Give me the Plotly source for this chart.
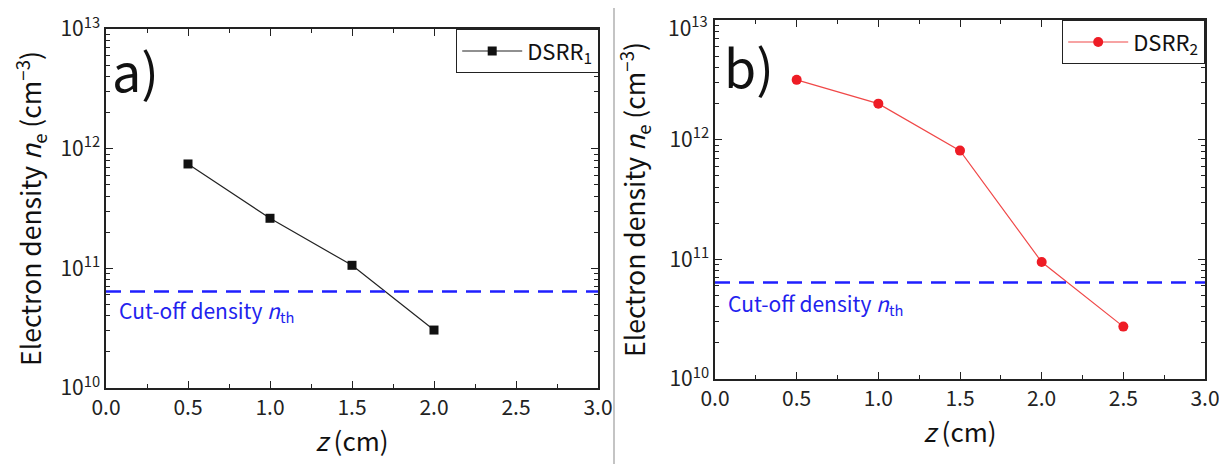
import plotly.graph_objects as go

# ---- data ----
z_a = [0.5, 1.0, 1.5, 2.0]
ne_a = [7.45e11, 2.62e11, 1.06e11, 3.05e10]
z_b = [0.5, 1.0, 1.5, 2.0, 2.5]
ne_b = [3.16e12, 2.0e12, 8.1e11, 9.5e10, 2.74e10]
cutoff = 6.4e10
cut_x = [0.0, 3.0]
x_ticks = [0.0, 0.5, 1.0, 1.5, 2.0, 2.5, 3.0]
x_ticklabels = ["0.0", "0.5", "1.0", "1.5", "2.0", "2.5", "3.0"]
y_ticks = [1e10, 1e11, 1e12, 1e13]
y_ticklabels = ["10<sup>10</sup>", "10<sup>11</sup>", "10<sup>12</sup>", "10<sup>13</sup>"]

FONT = "Noto Sans CJK JP"
OFF = 8                      # page body margin in the browser
W, H = 1227 - OFF, 464 - OFF

def px(x):
    return (x - OFF) / W

def py(y):
    return 1 - (y - OFF) / H

fig = go.Figure()

fig.add_trace(go.Scatter(x=z_a, y=ne_a, mode="lines+markers", name="DSRR<sub>1</sub>",
                         line=dict(color="#222222", width=1.2),
                         marker=dict(symbol="square", size=9, color="#111111"),
                         xaxis="x", yaxis="y", legend="legend"))
fig.add_trace(go.Scatter(x=cut_x, y=[cutoff, cutoff], mode="lines", showlegend=False,
                         line=dict(color="#1f1fff", width=2.5, dash="15px,9px"),
                         xaxis="x", yaxis="y", hoverinfo="skip"))
fig.add_trace(go.Scatter(x=z_b, y=ne_b, mode="lines+markers", name="DSRR<sub>2</sub>",
                         line=dict(color="#f04848", width=1.2),
                         marker=dict(symbol="circle", size=10, color="#ee1c25"),
                         xaxis="x2", yaxis="y2", legend="legend2"))
fig.add_trace(go.Scatter(x=cut_x, y=[cutoff, cutoff], mode="lines", showlegend=False,
                         line=dict(color="#1f1fff", width=2.5, dash="15px,9px"),
                         xaxis="x2", yaxis="y2", hoverinfo="skip"))

axis_common = dict(showline=True, linecolor="#222222", linewidth=1.5, mirror="ticks",
                   ticks="inside", ticklen=7, tickwidth=1.2, tickcolor="#222222",
                   showgrid=False, zeroline=False, automargin=False,
                   ticklabeloverflow="allow",
                   tickfont=dict(family=FONT, size=21, color="#222222"))

xax = dict(axis_common, range=[0, 3], tickvals=x_ticks, ticktext=x_ticklabels,
           minor=dict(ticks="inside", ticklen=4, dtick=0.25, tickcolor="#222222", showgrid=False),
           title=dict(text="<i>z</i> (cm)", font=dict(family=FONT, size=26, color="#111111"), standoff=10))
yax = dict(axis_common, type="log", range=[10, 13], tickvals=y_ticks, ticktext=y_ticklabels,
           minor=dict(ticks="inside", ticklen=4, dtick="D1", tickcolor="#222222", showgrid=False),
           title=dict(text="Electron density <i>n</i><sub>e</sub> (cm<sup>−3</sup>)",
                      font=dict(family=FONT, size=26.5, color="#111111"), standoff=16))

# right panel: top label drawn separately so it is not cut at the page edge
yax2_text = y_ticklabels[:-1] + [""]

fig.update_layout(
    width=W, height=H, margin=dict(l=0, r=0, t=0, b=0, autoexpand=False),
    paper_bgcolor="white", plot_bgcolor="white",
    xaxis=dict(xax, domain=[px(106), px(598)], anchor="y"),
    yaxis=dict(yax, domain=[py(388), py(29)], anchor="x"),
    xaxis2=dict(xax, domain=[px(715), px(1205)], anchor="y2"),
    yaxis2=dict(yax, domain=[py(379), py(20)], anchor="x2", ticktext=yax2_text),
    legend=dict(x=px(599), y=py(29), xanchor="right", yanchor="top",
                bordercolor="#222222", borderwidth=1.2, bgcolor="white",
                font=dict(family=FONT, size=22, color="#111111"), itemwidth=60),
    legend2=dict(x=px(1205), y=py(20), xanchor="right", yanchor="top",
                 bordercolor="#222222", borderwidth=1.2, bgcolor="white",
                 font=dict(family=FONT, size=22, color="#111111"), itemwidth=60),
    showlegend=True,
)

fig.add_annotation(text=y_ticklabels[-1], x=px(710), y=1, xref="paper", yref="paper",
                   xanchor="right", yanchor="top", showarrow=False,
                   font=dict(family=FONT, size=21, color="#222222"))
fig.add_annotation(text="a)", x=px(110), y=py(70), xref="paper", yref="paper",
                   xanchor="left", yanchor="middle", showarrow=False,
                   font=dict(family=FONT, size=52, color="#111111"))
fig.add_annotation(text="b)", x=px(722), y=py(65), xref="paper", yref="paper",
                   xanchor="left", yanchor="middle", showarrow=False,
                   font=dict(family=FONT, size=52, color="#111111"))
fig.add_annotation(text="Cut-off density <i>n</i><sub>th</sub>", x=px(117), y=py(311),
                   xref="paper", yref="paper", xanchor="left", yanchor="middle", showarrow=False,
                   font=dict(family=FONT, size=21, color="#2222ee"))
fig.add_annotation(text="Cut-off density <i>n</i><sub>th</sub>", x=px(726), y=py(304),
                   xref="paper", yref="paper", xanchor="left", yanchor="middle", showarrow=False,
                   font=dict(family=FONT, size=21, color="#2222ee"))

fig.add_shape(type="line", xref="paper", yref="paper", x0=px(614), x1=px(614), y0=0, y1=1,
              line=dict(color="#b0b0b0", width=1.5))

fig.write_html("out.html")
